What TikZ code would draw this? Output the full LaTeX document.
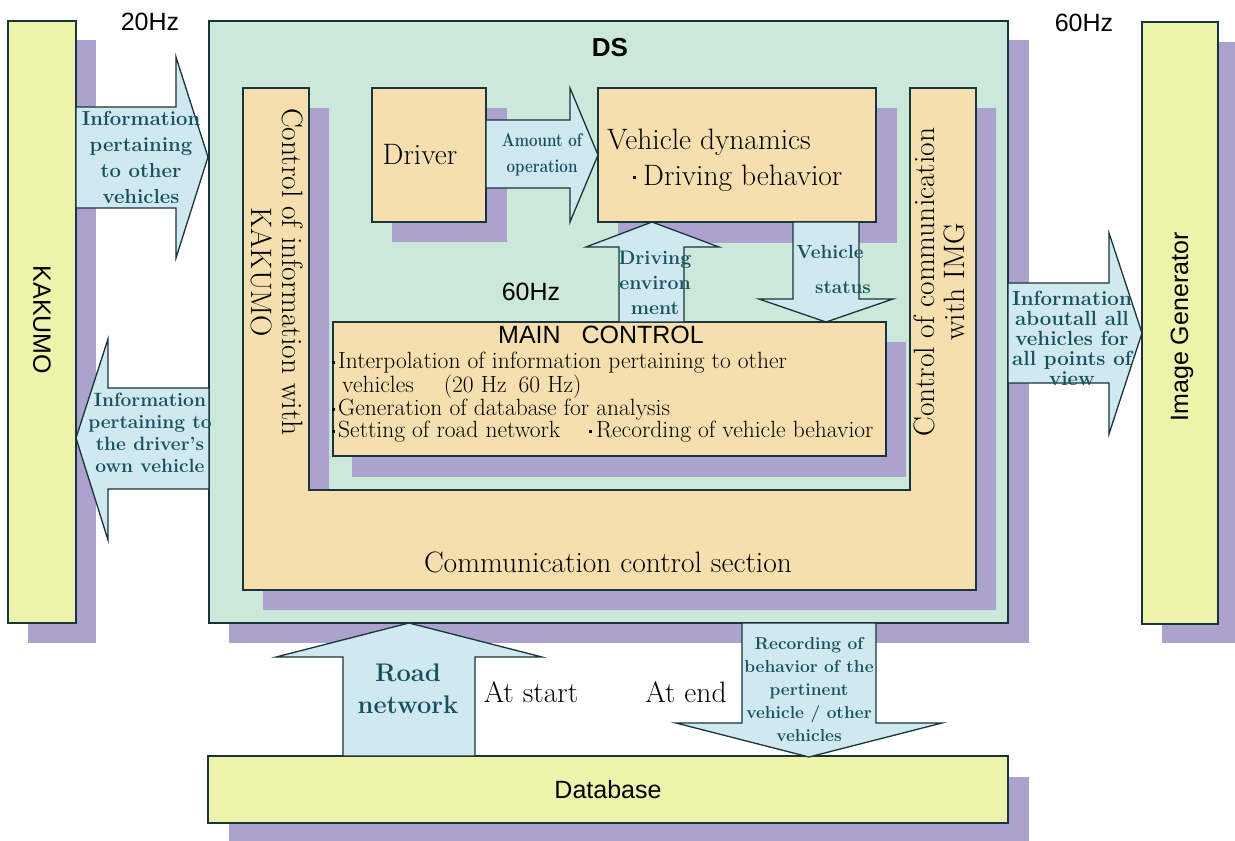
\documentclass[tikz,border=0pt]{standalone}
\usepackage{fontspec}
\newfontfamily\sansf{Liberation Sans}
\newcommand{\myfs}[2]{\fontsize{#1}{#2}\selectfont}
\newcommand{\bl}[1]{\makebox[#1][l]{\raisebox{0.2em}{\rule{3.2pt}{3.2pt}}}}
\definecolor{ybox}{RGB}{238,243,172}
\definecolor{dsfill}{RGB}{204,232,219}
\definecolor{tanc}{RGB}{246,223,174}
\definecolor{shadc}{RGB}{171,163,206}
\definecolor{arrc}{RGB}{208,232,240}
\definecolor{bordc}{RGB}{25,52,58}
\definecolor{atxt}{RGB}{22,82,94}
\begin{document}
\begin{tikzpicture}[x=1pt,y=-1pt,
  box/.style={draw=bordc,line width=1.4pt},
  shad/.style={fill=shadc},
  barrow/.style={draw=bordc,fill=arrc,line width=1.3pt,line join=miter},
  atext/.style={text=atxt,font=\bfseries\myfs{19}{22},align=center,inner sep=0pt},
  btext/.style={text=black,font=\myfs{29.5}{32},inner sep=0pt},
  mctext/.style={text=black,font=\myfs{23.5}{26},inner sep=0pt,anchor=west},
  slabel/.style={text=black,font=\sansf\myfs{25}{28},inner sep=0pt}]
\useasboundingbox (0,0) rectangle (1235,841);
\fill[white] (0,0) rectangle (1235,841);
% outer shadows
\fill[shad] (28,40) rectangle (96,643);
\fill[shad] (229,40) rectangle (1029,643);
\fill[shad] (1162,42) rectangle (1240,643);
\fill[shad] (229,777) rectangle (1029,845);
% outer boxes
\draw[box,fill=ybox] (8,21) rectangle (76,623);
\draw[box,fill=dsfill] (209,21) rectangle (1008,623);
\draw[box,fill=ybox] (1142,22) rectangle (1218,624);
\draw[box,fill=ybox] (208,756) rectangle (1008,823);
% communication control section (U shape)
\fill[shad] (263,108) -- (329,108) -- (329,510) -- (930,510) -- (930,108) -- (996,108) -- (996,610) -- (263,610) -- cycle;
\draw[box,fill=tanc] (243,88) -- (309,88) -- (309,490) -- (910,490) -- (910,88) -- (976,88) -- (976,590) -- (243,590) -- cycle;
% inner shadows
\fill[shad] (392,108) rectangle (507,242);
\fill[shad] (618,108) rectangle (897,243);
\fill[shad] (352,342) rectangle (906,477);
% inner boxes
\draw[box,fill=tanc] (372,88) rectangle (486,222);
\draw[box,fill=tanc] (598,88) rectangle (876,222);
\draw[box,fill=tanc] (333,322) rectangle (886,456);
% block arrows
\draw[barrow] (76,107) -- (176,107) -- (176,57) -- (208,157) -- (176,258) -- (176,208) -- (76,208) -- cycle;
\draw[barrow] (209,388) -- (108,388) -- (108,339) -- (76,438) -- (108,540) -- (108,489) -- (209,489) -- cycle;
\draw[barrow] (486,120) -- (570,120) -- (570,88) -- (598,155) -- (570,222) -- (570,188) -- (486,188) -- cycle;
\draw[barrow] (619,322) -- (619,247) -- (586,247) -- (652,222) -- (719,247) -- (684,247) -- (684,322) -- cycle;
\draw[barrow] (793,222) -- (793,299) -- (759,299) -- (826,322) -- (893,299) -- (859,299) -- (859,222) -- cycle;
\draw[barrow] (343,756) -- (343,657) -- (276,657) -- (409,623) -- (542,657) -- (475,657) -- (475,756) -- cycle;
\draw[barrow] (742,623) -- (742,723) -- (676,723) -- (809,757) -- (942,723) -- (876,723) -- (876,623) -- cycle;
\draw[barrow] (1008,283) -- (1109,283) -- (1109,233) -- (1142,333) -- (1109,434) -- (1109,383) -- (1008,383) -- cycle;
% sans labels
\node[slabel] (hz20) at (150,22) {20Hz};
\node[slabel] (hz60) at (1084,23) {60Hz};
\node[slabel,font=\sansf\bfseries\myfs{26}{28}] (ds) at (610,48) {DS};
\node[slabel,rotate=-90] (kakumo) at (42,320) {KAKUMO};
\node[slabel,rotate=90] (ig) at (1182,327) {Image Generator};
\node[slabel] (db) at (608,790) {Database};
\node[slabel] (hz60b) at (531,292) {60Hz};
\node[slabel] (mct) at (601,335) {MAIN\ \ \ CONTROL};
% box texts
\node[btext] (ccs) at (608,562) {Communication control section};
\node[btext,rotate=-90,align=center,font=\myfs{29.5}{31}] (ck) at (277,272) {Control of information with\\KAKUMO};
\node[btext,rotate=90,align=center,font=\myfs{29.5}{30}] (ci) at (939,282) {Control of communication\\with IMG};
\node[btext] (drv) at (420,155) {Driver};
\node[btext,anchor=west] (vd1) at (607,142) {Vehicle dynamics};
\node[btext,anchor=west] (vd2) at (633,178) {\bl{10pt}Driving behavior};
\node[mctext] (mc1) at (332,363) {\bl{6pt}Interpolation of information pertaining to other};
\node[mctext] (mc2) at (342,387) {vehicles\hspace{30pt}(20 Hz\hspace{12pt}60 Hz)};
\node[mctext] (mc3) at (332,410) {\bl{6pt}Generation of database for analysis};
\node[mctext] (mc4) at (332,432) {\bl{6pt}Setting of road network};
\node[mctext] (mc5) at (589,432) {\bl{7pt}Recording of vehicle behavior};
% arrow texts
\node[atext,font=\bfseries\myfs{20.3}{26}] (a1) at (141,157) {Information\\pertaining\\to other\\vehicles};
\node[atext,font=\bfseries\myfs{19.2}{22}] (a2) at (150,433) {Information\\pertaining to\\the driver's\\own vehicle};
\node[atext] (a3a) at (542,140) {\scalebox{0.82}[1]{\bfseries\myfs{18.5}{20}Amount of}};
\node[atext] (a3b) at (542,168) {\scalebox{0.82}[1]{\bfseries\myfs{18.5}{20}operation}};
\node[atext,font=\bfseries\myfs{19.5}{25}] (a4) at (655,283) {Driving\\environ\\ment};
\node[atext,font=\bfseries\myfs{19}{22}] (a5) at (830,252) {Vehicle};
\node[atext,font=\bfseries\myfs{19}{22}] (a6) at (843,288) {status};
\node[atext,font=\bfseries\myfs{20.5}{20}] (a7) at (1072,338) {Information\\aboutall all\\vehicles for\\all points of\\view};
\node[atext,font=\bfseries\myfs{25.5}{32}] (a8) at (408,689) {Road\\network};
\node[atext,font=\bfseries\myfs{17.3}{23}] (a9) at (809,689) {Recording of\\behavior of the\\pertinent\\vehicle / other\\vehicles};
\node[btext] (ast) at (531,692) {At start};
\node[btext] (aen) at (686,692) {At end};
\end{tikzpicture}
\end{document}
